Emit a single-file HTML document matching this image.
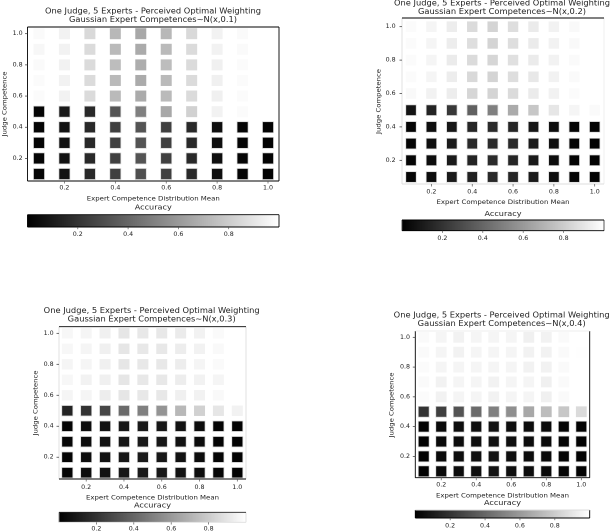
<!DOCTYPE html>
<html>
<head>
<meta charset="utf-8">
<style>
html,body{margin:0;padding:0;background:#fff;width:610px;height:532px;overflow:hidden}
svg{display:block}
text{font-family:"DejaVu Sans","Liberation Sans",sans-serif;fill:#222}
</style>
</head>
<body>
<svg id="figure" width="610" height="532" viewBox="0 0 610 532" xmlns="http://www.w3.org/2000/svg">
<defs>
<linearGradient id="gray-ramp" x1="0" x2="1" y1="0" y2="0">
<stop offset="0" stop-color="#000"/>
<stop offset="1" stop-color="#fff"/>
</linearGradient>
</defs>
</svg>
<script>
// Shared categories and tick labels
const expertMeans = [0.1,0.2,0.3,0.4,0.5,0.6,0.7,0.8,0.9,1.0];
const judgeCompetences = [1.0,0.9,0.8,0.7,0.6,0.5,0.4,0.3,0.2,0.1];
const xTickValues = [0.2,0.4,0.6,0.8,1.0];
const yTickValues = [0.2,0.4,0.6,0.8,1.0];
const colorbarTickValues = [0.2,0.4,0.6,0.8];
const sigmaLabels = ["0.1","0.2","0.3","0.4"];

// Accuracy values: rows follow judgeCompetences, columns follow expertMeans
const accuracySigma1 = [
[.98,.95,.85,.72,.66,.72,.85,.95,.98,1],
[.97,.95,.86,.73,.67,.73,.86,.95,.98,1],
[.98,.95,.86,.74,.68,.74,.86,.94,.985,1],
[.985,.95,.86,.73,.67,.73,.86,.94,.985,1],
[.985,.95,.86,.73,.67,.73,.86,.94,.985,1],
[.02,.1,.16,.33,.5,.66,.82,.95,.985,1],
[.02,.07,.16,.25,.33,.25,.16,.06,.02,.01],
[.02,.07,.16,.25,.33,.25,.16,.06,.02,.01],
[.02,.07,.16,.25,.33,.25,.16,.06,.02,.01],
[.02,.07,.16,.25,.31,.25,.16,.06,.02,.01]
];
const accuracySigma2 = [
[.985,.96,.93,.86,.83,.87,.92,.95,.975,1],
[.985,.96,.93,.87,.83,.87,.92,.95,.975,1],
[.985,.96,.92,.86,.84,.88,.92,.95,.98,1],
[.985,.96,.93,.85,.83,.87,.91,.95,.98,1],
[.975,.95,.93,.84,.83,.86,.92,.95,.985,1],
[.08,.14,.22,.38,.5,.67,.78,.9,.96,.98],
[.02,.06,.09,.15,.17,.15,.09,.05,.02,.01],
[.02,.06,.1,.16,.17,.16,.1,.05,.02,.01],
[.02,.05,.1,.14,.17,.15,.1,.05,.02,.01],
[.02,.05,.1,.13,.16,.15,.1,.05,.02,.01]
];
const accuracySigma3 = [
[.97,.96,.94,.9,.91,.91,.92,.95,.98,1],
[.97,.96,.94,.9,.91,.91,.93,.95,.975,1],
[.96,.96,.94,.9,.91,.91,.93,.96,.98,1],
[.97,.95,.94,.9,.91,.91,.93,.95,.96,1],
[.96,.96,.93,.9,.91,.91,.94,.95,.975,1],
[.14,.2,.28,.42,.5,.58,.72,.82,.9,.95],
[.02,.05,.07,.09,.1,.09,.07,.05,.02,.01],
[.03,.05,.07,.09,.1,.09,.07,.05,.02,.01],
[.02,.05,.07,.09,.1,.09,.07,.05,.02,.01],
[.02,.05,.07,.09,.1,.09,.07,.05,.02,.01]
];
const accuracySigma4 = [
[.98,.96,.95,.96,.96,.96,.94,.95,.98,1],
[.98,.96,.95,.96,.96,.96,.95,.95,.98,.995],
[.985,.96,.96,.96,.96,.96,.95,.95,.98,1],
[.98,.95,.96,.96,.95,.96,.96,.94,.98,1],
[.985,.95,.96,.96,.95,.96,.96,.94,.98,1],
[.2,.25,.33,.42,.5,.56,.66,.74,.78,.86],
[.01,.04,.05,.06,.07,.06,.05,.04,.02,.01],
[.01,.04,.05,.06,.07,.06,.05,.04,.02,.01],
[.01,.04,.05,.06,.07,.06,.05,.04,.02,.01],
[.01,.04,.05,.06,.07,.06,.05,.04,.02,.01]
];
const accuracyBySigma = [accuracySigma1,accuracySigma2,accuracySigma3,accuracySigma4];

// Page layout for each panel (not data)
const layouts = [
 {ax:[27.5,279,27,181],xr:[39,268],yr:[33.7,174],cw:11,ch:11,cb:[27.5,279,214.7,227],
  tc:153,t1:11,t2:19.7,xt:188,xl:198.7,ac:207,cbt:234.5,ytx:22.7,ylx:4.5,ylc:104,
  sp:{l:'#000',r:'#000',t:'#000',b:'#000'},cbs:{l:'#000',r:'#000',t:'#000',b:'#000'}},
 {ax:[402,604,18,184],xr:[411,594.7],yr:[26.7,177],cw:10.4,ch:10.6,cb:[402,604,220,230.7],
  tc:502,t1:3,t2:11.3,xt:192,xl:202,ac:213.3,cbt:238.5,ytx:395.7,ylx:378.7,ylc:101.5,
  sp:{l:'#ddd',r:'#eee',t:'#000',b:'#ddd'},cbs:{l:'#444',r:'#444',t:'#000',b:'#000'}},
 {ax:[59,246,326.7,479],xr:[67.3,237.3],yr:[333.3,472.7],cw:11,ch:10.4,cb:[59,246,512.3,522.3],
  tc:151.7,t1:310.7,t2:319,xt:487.7,xl:497.3,ac:505,cbt:529,ytx:53.7,ylx:35.7,ylc:403,
  sp:{l:'#ddd',r:'#ddd',t:'#000',b:'#000'},cbs:{l:'#888',r:'#ddd',t:'#222',b:'#ddd'}},
 {ax:[415.3,589.7,331,477.7],xr:[423.7,581.3],yr:[337.3,471.3],cw:10.8,ch:10.8,cb:[415.3,589.7,510,518],
  tc:501.7,t1:315,t2:323.7,xt:485,xl:495.7,ac:502.7,cbt:526,ytx:410,ylx:391.7,ylc:405,
  sp:{l:'#000',r:'#000',t:'#eee',b:'#000'},cbs:{l:'#000',r:'#000',t:'#ddd',b:'#000'}}
];

const NS = 'http://www.w3.org/2000/svg';
const fig = document.getElementById('figure');

function make(parent, tag, attrs, txt){
  const el = document.createElementNS(NS, tag);
  for (const k in attrs) el.setAttribute(k, attrs[k]);
  if (txt !== undefined) el.textContent = txt;
  parent.appendChild(el);
  return el;
}
function linear(d0,d1,r0,r1){ return v => r0 + (v-d0)/(d1-d0)*(r1-r0); }
function grayOf(v){
  const g = Math.round(Math.max(0,Math.min(1,v))*255);
  return 'rgb('+g+','+g+','+g+')';
}
function drawSpine(parent,name,x1,y1,x2,y2,color){
  const s = make(parent,'line',{x1:x1,y1:y1,x2:x2,y2:y2,stroke:color,'stroke-width':0.9});
  
  
}

function drawPanel(i){
  const L = layouts[i], data = accuracyBySigma[i];
  const g = make(fig,'g',{});
  
  

  const xScale = linear(0.1,1.0,L.xr[0],L.xr[1]);
  const yScale = linear(1.0,0.1,L.yr[0],L.yr[1]);
  const cbScale = linear(0,1,L.cb[0],L.cb[1]);
  const [axL,axR,axT,axB] = L.ax;

  judgeCompetences.forEach((jc,r)=>{
    expertMeans.forEach((m,c)=>{
      const v = data[r][c];
      const rect = make(g,'rect',{
        x:xScale(m)-L.cw/2, y:yScale(jc)-L.ch/2, width:L.cw, height:L.ch,
        fill:grayOf(v), stroke:v<0.6?'#d4d4d4':'none', 'stroke-width':0.7
      });
      
      
    });
  });

  drawSpine(g,'axis-left-spine',axL,axT,axL,axB,L.sp.l);
  drawSpine(g,'axis-right-spine',axR,axT,axR,axB,L.sp.r);
  drawSpine(g,'axis-top-spine',axL,axT,axR,axT,L.sp.t);
  drawSpine(g,'axis-bottom-spine',axL,axB,axR,axB,L.sp.b);

  xTickValues.forEach(v=>{
    const x = xScale(v);
    const tick = make(g,'line',{x1:x,y1:axB,x2:x,y2:axB+2.5,stroke:'#555','stroke-width':0.7});
    
    
    const lab = make(g,'text',{x:x,y:L.xt,'font-size':6.3,'text-anchor':'middle','dominant-baseline':'central'},v.toFixed(1));
    
    
  });
  yTickValues.forEach(v=>{
    const y = yScale(v);
    const tick = make(g,'line',{x1:axL-2.5,y1:y,x2:axL,y2:y,stroke:'#333','stroke-width':0.7});
    
    
    const lab = make(g,'text',{x:L.ytx,y:y,'font-size':6.3,'text-anchor':'end','dominant-baseline':'central'},v.toFixed(1));
    
    
  });

  const t1 = make(g,'text',{x:L.tc,y:L.t1,'font-size':7.6,'text-anchor':'middle','dominant-baseline':'central',textLength:216,lengthAdjust:'spacingAndGlyphs'},'One Judge, 5 Experts - Perceived Optimal Weighting');
  
  
  const t2 = make(g,'text',{x:L.tc,y:L.t2,'font-size':7.6,'text-anchor':'middle','dominant-baseline':'central',textLength:168,lengthAdjust:'spacingAndGlyphs'},'Gaussian Expert Competences~N(x,'+sigmaLabels[i]+')');
  
  

  const xl = make(g,'text',{x:(axL+axR)/2,y:L.xl,'font-size':6.4,'text-anchor':'middle','dominant-baseline':'central',textLength:133,lengthAdjust:'spacingAndGlyphs'},'Expert Competence Distribution Mean');
  
  
  const yl = make(g,'text',{x:0,y:0,'font-size':6.4,'text-anchor':'middle','dominant-baseline':'central',textLength:65,lengthAdjust:'spacingAndGlyphs',transform:'translate('+L.ylx+','+L.ylc+') rotate(-90)'},'Judge Competence');
  
  

  const ac = make(g,'text',{x:(L.cb[0]+L.cb[1])/2,y:L.ac,'font-size':7.2,'text-anchor':'middle','dominant-baseline':'central',textLength:37,lengthAdjust:'spacingAndGlyphs'},'Accuracy');
  
  

  const [cL,cR,cT,cB] = L.cb;
  const bar = make(g,'rect',{x:cL,y:cT,width:cR-cL,height:cB-cT,fill:'url(#gray-ramp)'});
  
  
  drawSpine(g,'colorbar-left-edge',cL,cT,cL,cB,L.cbs.l);
  drawSpine(g,'colorbar-right-edge',cR,cT,cR,cB,L.cbs.r);
  drawSpine(g,'colorbar-top-edge',cL,cT,cR,cT,L.cbs.t);
  drawSpine(g,'colorbar-bottom-edge',cL,cB,cR,cB,L.cbs.b);

  colorbarTickValues.forEach(v=>{
    const x = cbScale(v);
    const tick = make(g,'line',{x1:x,y1:cB,x2:x,y2:cB+2.2,stroke:'#555','stroke-width':0.7});
    
    
    const lab = make(g,'text',{x:x,y:L.cbt,'font-size':6.3,'text-anchor':'middle','dominant-baseline':'central'},v.toFixed(1));
    
    
  });
}
layouts.forEach((_,i)=>drawPanel(i));
</script>
</body>
</html>
